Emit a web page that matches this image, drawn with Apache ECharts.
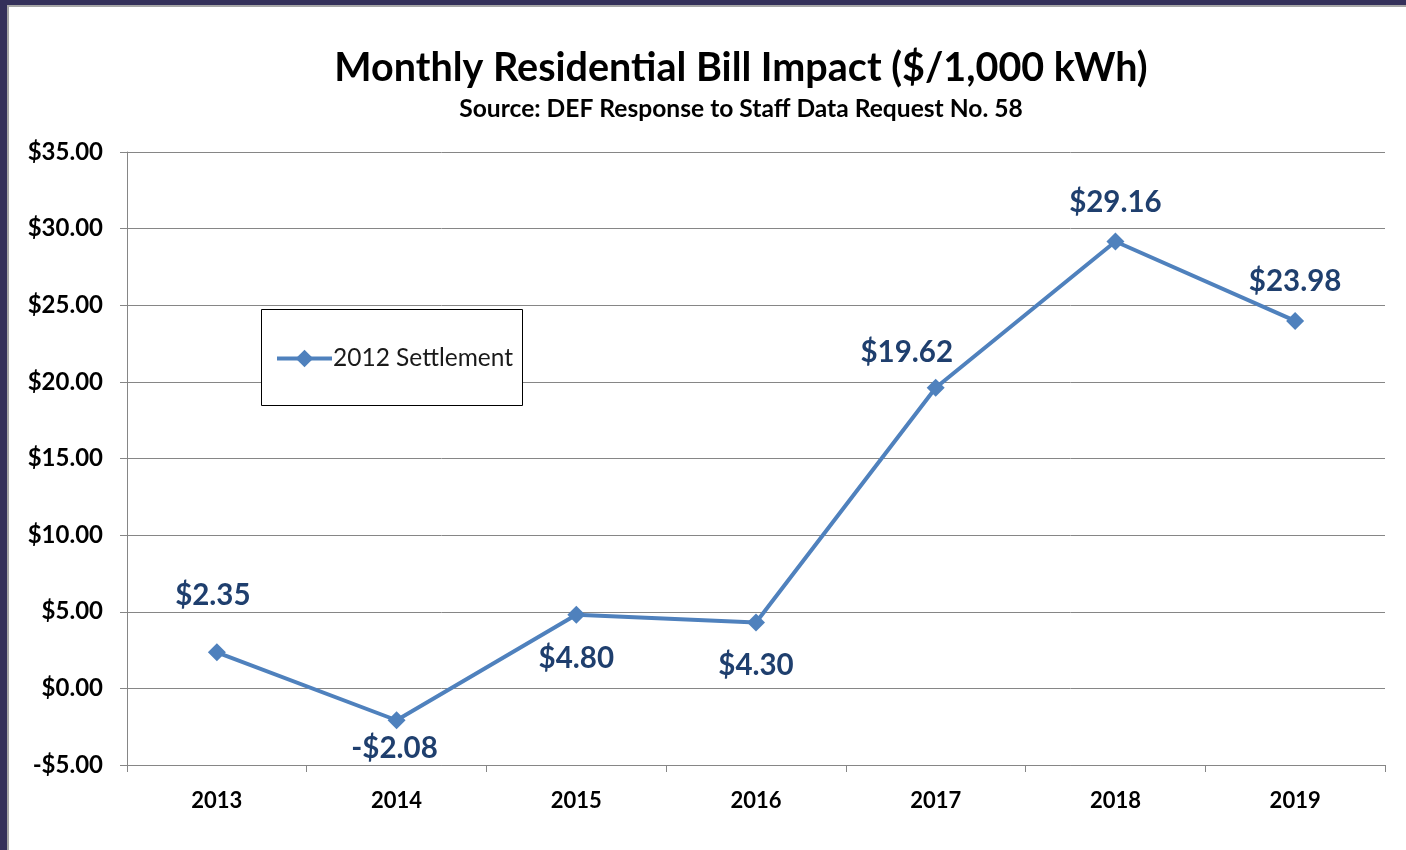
<!DOCTYPE html>
<html>
<head>
<meta charset="utf-8">
<script src="https://cdn.jsdelivr.net/npm/echarts@6/dist/echarts.min.js"></script>
<style>
  html, body { margin: 0; padding: 0; }
  body { width: 1406px; height: 850px; position: relative; background: #34305a; overflow: hidden; }
  #frame { position: absolute; left: 7px; top: 5px; width: 1399px; height: 845px; background: #a6a6a6; }
  #paper { position: absolute; left: 9px; top: 7px; width: 1397px; height: 843px; background: #ffffff; }
  #chart { position: absolute; left: 0; top: 0; width: 1406px; height: 850px; }
</style>
</head>
<body>
<div id="frame"></div>
<div id="paper"></div>
<div id="chart"></div>
<script>
const titleText = 'Monthly Residential Bill Impact ($/1,000 kWh)';
const subtitleText = 'Source: DEF Response to Staff Data Request No. 58';
const categories = ['2013', '2014', '2015', '2016', '2017', '2018', '2019'];
const seriesName = '2012 Settlement';
const values = [2.35, -2.08, 4.80, 4.30, 19.62, 29.16, 23.98];
const yTicks = [-5, 0, 5, 10, 15, 20, 25, 30, 35];

// label placement per point (style, not data)
const labelPlace = [
  { position: 'top', distance: 33, offset: [-4, 0] },
  { position: 'bottom', distance: 4, offset: [-2, 0] },
  { position: 'bottom', distance: 20 },
  { position: 'bottom', distance: 19 },
  { position: 'top', distance: 11, offset: [-29, 0] },
  { position: 'top', distance: 15 },
  { position: 'top', distance: 15 }
];

const fmt = v => (v < 0 ? '-$' : '$') + Math.abs(v).toFixed(2);
const FONT = 'Lato, Carlito, "Open Sans", sans-serif';
const BLUE = '#4F81BD';

const chart = echarts.init(document.getElementById('chart'), null, { renderer: 'canvas' });
chart.setOption({
  animation: false,
  textStyle: { fontFamily: FONT },
  grid: { left: 127, top: 152, right: 21, bottom: 85, containLabel: false },
  graphic: [
    { type: 'text', x: 741, y: 68, style: { text: titleText, font: 'bold 39.5px ' + FONT, fill: '#000', textAlign: 'center', textVerticalAlign: 'middle' } },
    { type: 'text', x: 741, y: 109, style: { text: subtitleText, font: 'bold 24.6px ' + FONT, fill: '#000', textAlign: 'center', textVerticalAlign: 'middle' } },
    { type: 'rect', shape: { x: 261.5, y: 309.5, width: 261, height: 96 }, style: { fill: '#fff', stroke: '#000', lineWidth: 1 }, z: 5 }
  ],
  legend: {
    data: [seriesName],
    left: 275, top: 346,
    itemWidth: 55, itemHeight: 22, itemGap: 0,
    padding: 0,
    lineStyle: { width: 4 },
    textStyle: { fontSize: 24.5, color: '#1a1a1a', fontFamily: FONT, padding: [0, 0, 0, -4] },
    z: 10
  },
  xAxis: {
    type: 'category',
    data: categories,
    boundaryGap: true,
    axisLine: { onZero: false, lineStyle: { color: '#868686', width: 1 } },
    axisTick: { show: true, alignWithLabel: false, length: 7, lineStyle: { color: '#868686' } },
    axisLabel: { fontSize: 22, fontWeight: 'bold', color: '#000', margin: 25, fontFamily: FONT },
    splitLine: { show: false }
  },
  yAxis: {
    type: 'value',
    min: yTicks[0], max: yTicks[yTicks.length - 1], interval: 5,
    axisLine: { show: true, lineStyle: { color: '#868686', width: 1 } },
    axisTick: { show: true, length: 7, lineStyle: { color: '#868686' } },
    axisLabel: { fontSize: 24, fontWeight: 'bold', color: '#000', margin: 24, formatter: fmt, fontFamily: FONT },
    splitLine: { show: true, lineStyle: { color: '#868686', width: 1 } }
  },
  series: [{
    name: seriesName,
    type: 'line',
    data: values.map((v, i) => ({ value: v, label: labelPlace[i] })),
    lineStyle: { color: BLUE, width: 4 },
    itemStyle: { color: BLUE },
    symbol: 'diamond',
    symbolSize: 18,
    label: {
      show: true,
      formatter: p => fmt(p.value),
      fontSize: 29.5, fontWeight: 'bold', color: '#1F3F6E', fontFamily: FONT
    },
    z: 3
  }]
});
</script>
</body>
</html>
